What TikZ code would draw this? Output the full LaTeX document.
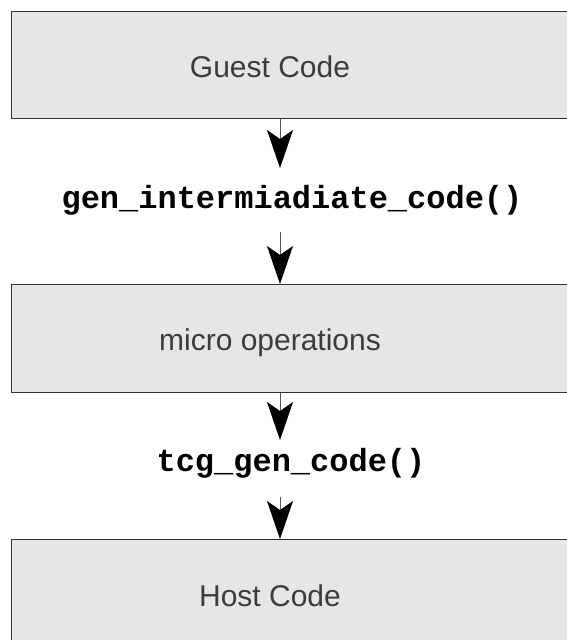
\documentclass[tikz,border=0pt]{standalone}
\usepackage{fontspec}
\setmainfont{Liberation Sans}
\setmonofont{Liberation Mono}
\usetikzlibrary{arrows.meta}
\definecolor{boxfill}{HTML}{E6E6E6}
\definecolor{boxline}{HTML}{333333}
\definecolor{boxtextc}{HTML}{3C3C3C}
\definecolor{wireline}{HTML}{555555}
\begin{document}
\begin{tikzpicture}[x=1pt,y=-1pt,
  stagebox/.style={draw=boxline, fill=boxfill, line width=1pt, inner sep=0pt,
    minimum width=600pt, anchor=north west},
  stagetext/.style={text=boxtextc, inner sep=0pt, anchor=base,
    font=\fontsize{30}{36}\selectfont},
  fnlabel/.style={text=black, inner sep=0pt, anchor=base,
    font=\ttfamily\bfseries\fontsize{32}{38}\selectfont},
  flow/.style={draw=wireline, line width=1pt,
    -{Stealth[length=38pt, width=26pt, inset=9pt, color=black]}}]
\useasboundingbox (0,0) rectangle (567,640);
\fill[white] (0,0) rectangle (567,640);

% the three stages
\node[stagebox, minimum height=107pt] (guest) at (11,11) {};
\node[stagebox, minimum height=108pt] (micro) at (11,284) {};
\node[stagebox, minimum height=130pt] (host)  at (11,539) {};

\node[stagetext] (guesttxt) at (270,77.3) {Guest Code};
\node[stagetext] (microtxt) at (270,350) {micro operations};
\node[stagetext] (hosttxt)  at (270,606) {Host Code};

% translation steps
\node[fnlabel] (gen) at (292,208.3) {gen\_intermiadiate\_code()};
\node[fnlabel] (tcg) at (291,471.5) {tcg\_gen\_code()};

% vertical flow line
\coordinate (ax) at (280,0);
\coordinate (genin)  at (280,168);
\coordinate (genout) at (280,232);
\coordinate (tcgin)  at (280,440);
\coordinate (tcgout) at (280,497);

\draw[flow] (guest.south -| ax) -- (genin);
\draw[flow] (genout) -- (micro.north -| ax);
\draw[flow] (micro.south -| ax) -- (tcgin);
\draw[flow] (tcgout) -- (host.north -| ax);
\end{tikzpicture}
\end{document}
